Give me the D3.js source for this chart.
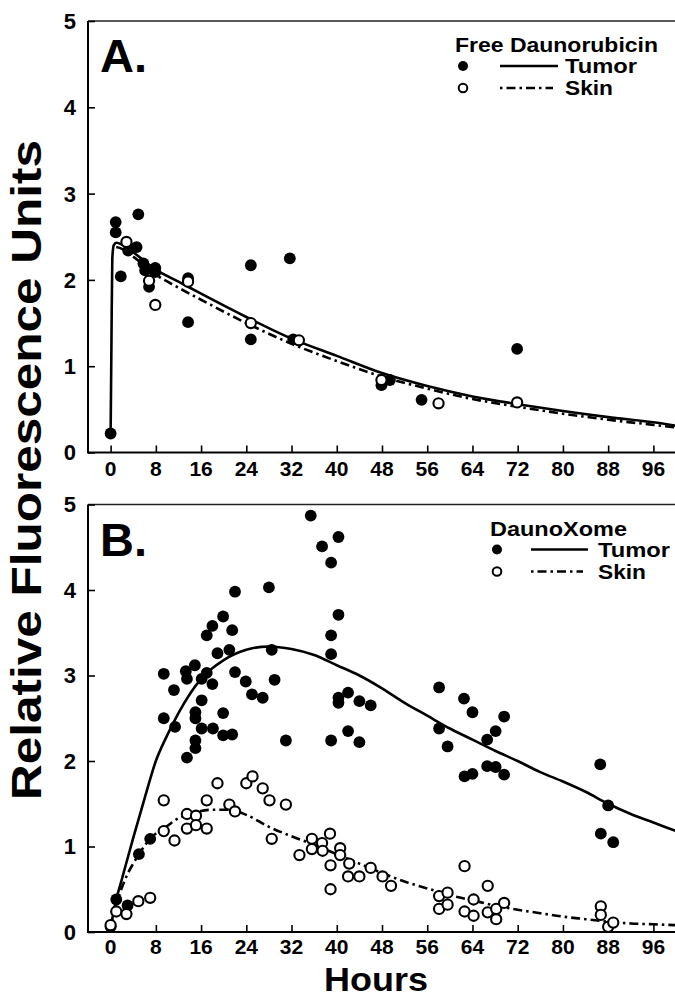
<!DOCTYPE html>
<html><head><meta charset="utf-8">
<script src="https://cdn.jsdelivr.net/npm/d3@7"></script>
<style>
body{margin:0;background:#fff}
svg{display:block}
text{font-family:"Liberation Sans",Arial,Helvetica,sans-serif;font-weight:bold;fill:#000}
</style>
</head><body>
<svg id="chart" width="675" height="998"></svg>
<script>
// ---------- tick labels ----------
const hourTicks = [0, 8, 16, 24, 32, 40, 48, 56, 64, 72, 80, 88, 96];
const valueTicks = [0, 1, 2, 3, 4, 5];

// ---------- Panel A : Free Daunorubicin ----------
const aTumorHours  = [0, 0.9, 0.9, 4.9, 4.6, 3.1, 1.8, 5.8, 7.9, 6.1, 7.9, 6.8, 13.7, 13.7, 24.8, 31.7, 24.8, 32.3, 47.9, 49.4, 55, 71.9];
const aTumorValues = [0.22, 2.67, 2.55, 2.76, 2.38, 2.34, 2.04, 2.19, 2.14, 2.11, 2.09, 1.92, 2.02, 1.51, 2.17, 2.25, 1.31, 1.31, 0.78, 0.84, 0.61, 1.20];
const aSkinHours   = [2.8, 6.8, 7.9, 13.7, 24.8, 33.3, 47.9, 58, 71.9];
const aSkinValues  = [2.44, 1.99, 1.71, 1.98, 1.50, 1.30, 0.84, 0.57, 0.58];
const aTumorFitHours  = [0, 0.15, 0.3, 0.55, 1, 2, 4, 8, 12, 16, 24, 32, 40, 48, 56, 64, 72, 80, 88, 96, 100];
const aTumorFitValues = [0.2, 1.3, 2.25, 2.4, 2.43, 2.41, 2.32, 2.12, 1.98, 1.84, 1.57, 1.32, 1.12, 0.92, 0.77, 0.65, 0.56, 0.48, 0.41, 0.35, 0.31];
const aSkinFitHours   = [1, 2, 4, 8, 12, 16, 24, 32, 40, 48, 56, 64, 72, 80, 88, 96, 100];
const aSkinFitValues  = [2.38, 2.36, 2.27, 2.06, 1.91, 1.77, 1.50, 1.26, 1.06, 0.88, 0.74, 0.62, 0.53, 0.45, 0.38, 0.32, 0.29];

// ---------- Panel B : DaunoXome ----------
const bTumorHours  = [0, 1.0, 3.0, 5.0, 7.0, 9.4, 9.4, 11.2, 11.4, 13.3, 13.5, 13.5, 14.9, 15.0, 15.0, 15.0, 15.0,
  16.1, 16.1, 16.1, 17.0, 17.0, 18.0, 18.0, 18.1, 18.9, 19.9, 19.9, 19.9, 21.0, 21.5, 21.5, 22.0, 22.0, 23.9, 25.0, 26.9, 28.0, 28.5, 29.0, 31.0,
  35.4, 37.4, 39.0, 40.3, 40.3, 39.0, 39.0, 39.0, 40.3, 40.3, 42.0, 42.0, 44.0, 44.0, 46.0,
  58.1, 58.1, 59.6, 62.5, 62.6, 64.0, 64.0, 66.6, 66.6, 68.1, 68.1, 69.6, 69.6,
  86.6, 86.7, 88.0, 88.9];
const bTumorValues = [0.06, 0.38, 0.31, 0.91, 1.09, 3.02, 2.50, 2.83, 2.40, 3.05, 2.96, 2.04, 3.12, 2.57, 2.50, 2.24, 2.15,
  2.96, 2.71, 2.38, 3.47, 3.03, 3.58, 2.90, 2.38, 3.26, 3.69, 2.56, 2.30, 3.30, 3.53, 2.31, 3.98, 3.04, 2.93, 2.78, 2.74, 4.03, 3.30, 2.95, 2.24,
  4.87, 4.51, 4.32, 4.62, 3.71, 3.47, 3.25, 2.24, 2.74, 2.68, 2.80, 2.35, 2.70, 2.22, 2.65,
  2.86, 2.38, 2.17, 2.73, 1.82, 2.57, 1.85, 2.25, 1.94, 2.35, 1.93, 2.52, 1.84,
  1.96, 1.15, 1.48, 1.05];
const bSkinHours  = [0, 1.0, 2.8, 4.9, 7.0, 9.4, 9.4, 11.3, 13.5, 13.5, 15.1, 15.1, 17.0, 17.0, 18.9, 21.0, 22.0, 24.0, 25.1, 26.9, 28.1, 28.5, 31.0,
  33.4, 35.6, 35.6, 37.4, 37.5, 38.8, 38.9, 38.9, 40.6, 40.6, 42.2, 42.0, 44.0, 46.0, 48.1, 49.6,
  58.1, 58.1, 59.6, 59.6, 62.6, 62.6, 64.2, 64.2, 66.7, 66.7, 68.2, 68.2, 69.6, 86.7, 86.7, 88.0, 88.9];
const bSkinValues = [0.08, 0.24, 0.21, 0.36, 0.40, 1.54, 1.18, 1.07, 1.38, 1.21, 1.36, 1.25, 1.54, 1.21, 1.74, 1.49, 1.41, 1.74, 1.82, 1.68, 1.54, 1.09, 1.49,
  0.90, 1.09, 0.97, 1.04, 0.95, 1.15, 0.78, 0.50, 0.98, 0.90, 0.80, 0.65, 0.65, 0.75, 0.65, 0.54,
  0.42, 0.27, 0.46, 0.32, 0.77, 0.24, 0.38, 0.19, 0.54, 0.23, 0.27, 0.15, 0.34, 0.30, 0.20, 0.06, 0.11];
const bTumorFitHours  = [0, 1, 2, 4, 6, 8, 10, 12, 16, 20, 24, 28, 32, 36, 40, 44, 48, 52, 56, 60, 64, 68, 72, 76, 80, 84, 88, 92, 96, 100];
const bTumorFitValues = [0.05, 0.38, 0.62, 1.1, 1.56, 2.0, 2.3, 2.56, 2.96, 3.18, 3.3, 3.34, 3.31, 3.24, 3.12, 3.0, 2.85, 2.68, 2.53, 2.38, 2.25, 2.12, 2.0, 1.87, 1.76, 1.64, 1.5, 1.38, 1.28, 1.18];
const bSkinFitHours   = [0, 1, 2, 3, 4, 5, 7, 10, 12, 14, 18, 21, 24, 28, 32, 36, 40, 44, 48, 52, 56, 60, 64, 68, 72, 76, 80, 84, 88, 92, 96, 100];
const bSkinFitValues  = [0.05, 0.33, 0.52, 0.68, 0.8, 0.91, 1.09, 1.24, 1.33, 1.38, 1.43, 1.43, 1.37, 1.23, 1.12, 1.02, 0.91, 0.8, 0.69, 0.59, 0.51, 0.43, 0.37, 0.31, 0.26, 0.22, 0.18, 0.15, 0.12, 0.10, 0.09, 0.08];

// ---------- build ----------
const zip = (h, v) => h.map((d, i) => ({h: d, v: v[i]}));
const panels = [
  {id: "A", label: "A.", title: "Free Daunorubicin", top: 21, bottom: 452.5, legX: 455, legCircle: 463, legLine: [500, 558], legText: 565, titleLen: 203,
   tumor: zip(aTumorHours, aTumorValues), skin: zip(aSkinHours, aSkinValues),
   tumorFit: zip(aTumorFitHours, aTumorFitValues), skinFit: zip(aSkinFitHours, aSkinFitValues), tickBase: 476},
  {id: "B", label: "B.", title: "DaunoXome", top: 504.5, bottom: 932, legX: 490, legCircle: 497, legLine: [531, 588], legText: 598, titleLen: 137,
   tumor: zip(bTumorHours, bTumorValues), skin: zip(bSkinHours, bSkinValues),
   tumorFit: zip(bTumorFitHours, bTumorFitValues), skinFit: zip(bSkinFitHours, bSkinFitValues), tickBase: 954}
];

const svg = d3.select("#chart");
const x = d3.scaleLinear().domain([-4, 100]).range([88, 676]);
const dashDot = "9,4,2.5,4";

panels.forEach(p => {
  const y = d3.scaleLinear().domain([0, 5]).range([p.bottom, p.top]);
  const g = svg.append("g");
  const clipId = "clip" + p.id;
  svg.append("clipPath").attr("id", clipId).append("rect")
    .attr("x", 88).attr("y", p.top - 8).attr("width", 675 - 88).attr("height", p.bottom - p.top + 8);

  // frame
  g.append("line").attr("x1", 88).attr("x2", 675).attr("y1", p.top).attr("y2", p.top).attr("stroke", "#222").attr("stroke-width", 1.6);
  g.append("line").attr("x1", 88).attr("x2", 88).attr("y1", p.top).attr("y2", p.bottom).attr("stroke", "#000").attr("stroke-width", 2);
  g.append("line").attr("x1", 87).attr("x2", 675).attr("y1", p.bottom).attr("y2", p.bottom).attr("stroke", "#000").attr("stroke-width", 2);

  // y axis ticks (inward)
  const yAxis = d3.axisRight(y).tickValues(valueTicks).tickSize(7).tickFormat("");
  const ya = g.append("g").attr("transform", "translate(88,0)").call(yAxis);
  ya.select(".domain").remove();
  ya.selectAll(".tick line").attr("stroke", "#000").attr("stroke-width", 1.6);
  g.selectAll(".ylab").data(valueTicks).join("text")
    .attr("x", 76).attr("y", d => y(d)).attr("dy", "0.36em")
    .attr("text-anchor", "end").attr("font-size", 22).text(d => d);

  // x axis ticks (inward)
  const xAxis = d3.axisTop(x).tickValues(hourTicks).tickSize(7).tickFormat("");
  const xa = g.append("g").attr("transform", `translate(0,${p.bottom})`).call(xAxis);
  xa.select(".domain").remove();
  xa.selectAll(".tick line").attr("stroke", "#000").attr("stroke-width", 1.6);
  g.selectAll(".xlab").data(hourTicks).join("text")
    .attr("x", d => x(d)).attr("y", p.tickBase)
    .attr("text-anchor", "middle").attr("font-size", 21).text(d => d);

  // fitted curves
  const line = d3.line().x(d => x(d.h)).y(d => y(d.v)).curve(d3.curveMonotoneX);
  const cg = g.append("g").attr("clip-path", `url(#${clipId})`);
  cg.append("path").attr("d", line(p.skinFit)).attr("fill", "none").attr("stroke", "#000")
    .attr("stroke-width", 2.6).attr("stroke-dasharray", dashDot);
  cg.append("path").attr("d", line(p.tumorFit)).attr("fill", "none").attr("stroke", "#000")
    .attr("stroke-width", 2.6);

  // points
  cg.selectAll(".tp").data(p.tumor).join("circle")
    .attr("cx", d => x(d.h)).attr("cy", d => y(d.v)).attr("r", 5.9).attr("fill", "#000");
  cg.selectAll(".sp").data(p.skin).join("circle")
    .attr("cx", d => x(d.h)).attr("cy", d => y(d.v)).attr("r", 5.1)
    .attr("fill", "#fff").attr("stroke", "#000").attr("stroke-width", 2.1);

  // panel letter
  g.append("text").attr("x", 100).attr("y", p.top + 51).attr("font-size", 47).text(p.label);

  // legend
  const ly = p.top;
  g.append("text").attr("x", p.legX).attr("y", ly + 31).attr("font-size", 20)
    .attr("textLength", p.titleLen).attr("lengthAdjust", "spacingAndGlyphs").text(p.title);
  g.append("circle").attr("cx", p.legCircle).attr("cy", ly + 45).attr("r", 5).attr("fill", "#000");
  g.append("line").attr("x1", p.legLine[0]).attr("x2", p.legLine[1]).attr("y1", ly + 45).attr("y2", ly + 45)
    .attr("stroke", "#000").attr("stroke-width", 2.4);
  g.append("text").attr("x", p.legText).attr("y", ly + 52).attr("font-size", 21)
    .attr("textLength", 72).attr("lengthAdjust", "spacingAndGlyphs").text("Tumor");
  g.append("circle").attr("cx", p.legCircle).attr("cy", ly + 67).attr("r", 4.3)
    .attr("fill", "#fff").attr("stroke", "#000").attr("stroke-width", 2);
  g.append("line").attr("x1", p.legLine[0]).attr("x2", p.legLine[1] - 5).attr("y1", ly + 67).attr("y2", ly + 67)
    .attr("stroke", "#000").attr("stroke-width", 2.4).attr("stroke-dasharray", "2.5,4,9,4");
  g.append("text").attr("x", p.legText).attr("y", ly + 74).attr("font-size", 21)
    .attr("textLength", 48).attr("lengthAdjust", "spacingAndGlyphs").text("Skin");
});

// axis titles
svg.append("text").attr("x", 376).attr("y", 991).attr("text-anchor", "middle")
  .attr("font-size", 34).attr("textLength", 104).attr("lengthAdjust", "spacingAndGlyphs").text("Hours");
svg.append("text").attr("transform", "translate(41,470) rotate(-90)")
  .attr("text-anchor", "middle").attr("font-size", 43)
  .attr("textLength", 660).attr("lengthAdjust", "spacingAndGlyphs")
  .text("Relative   Fluorescence   Units");
</script>
</body></html>
